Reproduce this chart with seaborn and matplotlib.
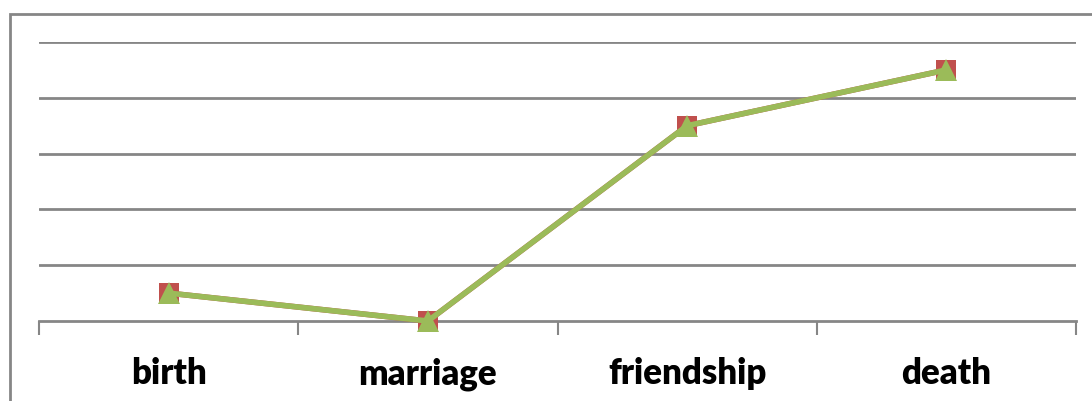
import matplotlib
matplotlib.use("Agg")
import matplotlib.pyplot as plt
from matplotlib.patches import Rectangle
import seaborn as sns
import pandas as pd

categories = ["birth", "marriage", "friendship", "death"]
series_a = [0.5, 0.0, 3.5, 4.5]   # red squares
series_b = [0.5, 0.0, 3.5, 4.5]   # green triangles

sns.set_theme(style="white")
plt.rcParams['font.family'] = ['Lato', 'DejaVu Sans']

W, H = 1092, 401
fig = plt.figure(figsize=(W / 100, H / 100), dpi=100)
ax = fig.add_axes([39 / W, 1 - 321 / H, (1076 - 39) / W, (321 - 42) / H])

grid_c = "#868686"
red = "#C0504D"
green = "#9BBB59"

pos = list(range(len(categories)))
df_a = pd.DataFrame({"x": pos, "y": series_a})
df_b = pd.DataFrame({"x": pos, "y": series_b})

sns.lineplot(data=df_a, x="x", y="y", ax=ax, color=red, lw=4, marker="s",
             markersize=14, markeredgewidth=0, zorder=3, clip_on=False)
sns.lineplot(data=df_b, x="x", y="y", ax=ax, color=green, lw=4, marker="^",
             markersize=16, markeredgewidth=0, zorder=4, clip_on=False)

ax.set_xlim(-0.5, len(categories) - 0.5)
ax.set_ylim(0, 5)
for v in [1, 2, 3, 4, 5]:
    ax.axhline(v, color=grid_c, lw=2, zorder=1)

for s in ["top", "right", "left"]:
    ax.spines[s].set_visible(False)
ax.spines["bottom"].set_color(grid_c)
ax.spines["bottom"].set_linewidth(2)

ax.set_yticks([])
ax.set_xticks([p - 0.5 for p in pos] + [len(categories) - 0.5])
ax.set_xticklabels([])
ax.tick_params(axis="x", which="major", direction="out", length=10, width=1.5,
               color=grid_c, bottom=True)
ax.set_xticks(pos, minor=True)
ax.set_xticklabels(categories, minor=True, fontsize=25, fontweight="heavy",
                   color="black")
ax.tick_params(axis="x", which="minor", length=0, pad=26)
ax.set_xlabel("")
ax.set_ylabel("")

fig.patches.append(Rectangle((9.5 / W, -0.1), 1.2, 1 - 13.5 / H + 0.1,
                             transform=fig.transFigure, fill=False,
                             edgecolor=grid_c, lw=2, zorder=0))

fig.savefig("out.png", dpi=100, facecolor="white")
